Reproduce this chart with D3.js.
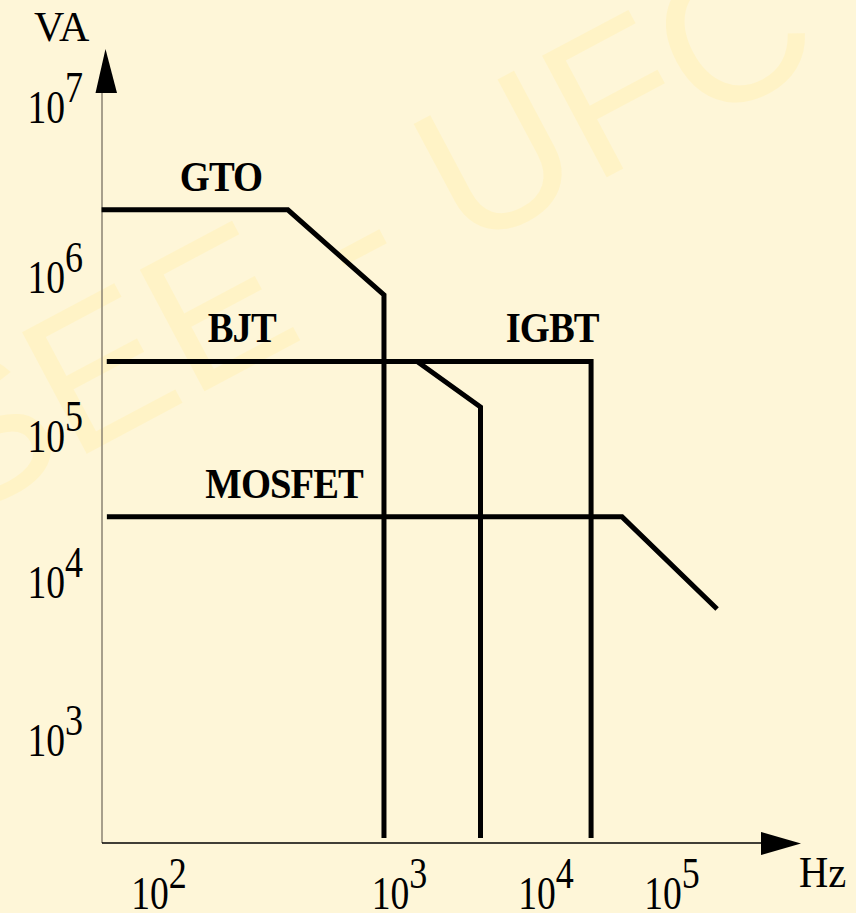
<!DOCTYPE html>
<html>
<head>
<meta charset="utf-8">
<script src="https://cdn.jsdelivr.net/npm/d3@7"></script>
<style>
  html, body { margin: 0; padding: 0; background: #fef6d8; }
  svg { display: block; }
</style>
</head>
<body>
<svg id="chart" width="856" height="913"></svg>
<script>
// Decade exponents labelled on each axis
const xExponents = [2, 3, 4, 5];
const yExponents = [3, 4, 5, 6, 7];

// Device names
const devices = ["GTO", "BJT", "IGBT", "MOSFET"];

// Operating-limit outlines: switching frequency (Hz) against power (VA)
const gtoHz    = [58, 345, 866, 866];
const gtoVA    = [2.45e6, 2.45e6, 7.6e5, 236];
const bjtHz    = [61, 1330, 3600, 3600];
const bjtVA    = [2.9e5, 2.9e5, 1.5e5, 236];
const igbtHz   = [61, 23000, 23000];
const igbtVA   = [2.9e5, 2.9e5, 236];
const mosfetHz = [61, 40500, 230000];
const mosfetVA = [2.75e4, 2.75e4, 6.65e3];

// Frequency at which each device name is centred
const labelHz = [182, 222, 11300, 333];

// Axis units
const xUnit = "Hz";
const yUnit = "VA";

const outlines = [
  d3.zip(gtoHz, gtoVA),
  d3.zip(bjtHz, bjtVA),
  d3.zip(igbtHz, igbtVA),
  d3.zip(mosfetHz, mosfetVA)
];

const svg = d3.select("#chart");
const W = 856, H = 913;
const originX = 102, originY = 843;
const serif = "'Liberation Serif', 'Times New Roman', Times, serif";

svg.append("rect").attr("width", W).attr("height", H).attr("fill", "#fef6d8");

// faint background stamp
svg.append("text")
  .attr("transform", "translate(-173,592) rotate(-28)")
  .attr("font-family", "'Liberation Sans', Arial, sans-serif")
  .attr("font-size", 200)
  .attr("fill", "#fff3c6")
  .text("CSEE - UFC");

// Log-decade scales (hand-spaced decades, linear within each decade)
const x = d3.scaleLinear().domain(xExponents).range([158.5, 399, 545.5, 671.5]);
const y = d3.scaleLinear().domain(yExponents).range([739, 581, 435, 276, 106]);
const xPos = v => x(Math.log10(v));
const yPos = v => y(Math.log10(v));

// Axis lines
svg.append("line")
  .attr("x1", originX).attr("x2", originX)
  .attr("y1", 92).attr("y2", originY)
  .attr("stroke", "#8a8272").attr("stroke-width", 1.5);
svg.append("path")
  .attr("d", "M105.5,49 L117,93 L95.5,93 Z")
  .attr("fill", "#000");
svg.append("line")
  .attr("x1", originX).attr("x2", 762)
  .attr("y1", originY).attr("y2", originY)
  .attr("stroke", "#000").attr("stroke-width", 1.5);
svg.append("path")
  .attr("d", "M801,843.5 L761,832 L761,855 Z")
  .attr("fill", "#000");

// Power-of-ten tick labels
function powerLabel(sel) {
  sel.each(function(d) {
    const t = d3.select(this);
    t.text(null);
    t.append("tspan").attr("font-size", 47).text("10");
    t.append("tspan").attr("font-size", 45).attr("dy", -21).text(d);
  });
}

const xAxis = svg.append("g")
  .attr("transform", `translate(0,${originY})`)
  .call(d3.axisBottom(x).tickValues(xExponents).tickSize(0).tickFormat(d => d));
xAxis.select(".domain").remove();
xAxis.selectAll(".tick text")
  .attr("y", 0).attr("dy", null)
  .attr("transform", "translate(0,66) scale(0.8,1)")
  .attr("text-anchor", "middle")
  .attr("font-family", serif)
  .attr("fill", "#000")
  .call(powerLabel);

const yAxis = svg.append("g")
  .attr("transform", `translate(${originX},0)`)
  .call(d3.axisLeft(y).tickValues(yExponents).tickSize(0).tickFormat(d => d));
yAxis.select(".domain").remove();
yAxis.selectAll(".tick text")
  .attr("x", 0).attr("dy", null)
  .attr("transform", "translate(-19,16) scale(0.8,1)")
  .attr("text-anchor", "end")
  .attr("font-family", serif)
  .attr("fill", "#000")
  .call(powerLabel);

// Axis unit labels
svg.append("text")
  .attr("x", 34).attr("y", 41)
  .attr("font-family", serif).attr("font-size", 42)
  .attr("fill", "#000")
  .text(yUnit);
svg.append("text")
  .attr("transform", "translate(799,887) scale(0.9,1)")
  .attr("font-family", serif).attr("font-size", 45)
  .attr("fill", "#000")
  .text(xUnit);

// Device outlines
const line = d3.line().x(d => xPos(d[0])).y(d => yPos(d[1]));
svg.append("g")
  .selectAll("path")
  .data(outlines)
  .join("path")
  .attr("d", line)
  .attr("fill", "none")
  .attr("stroke", "#000")
  .attr("stroke-width", 5)
  .attr("stroke-linejoin", "miter")
  .attr("stroke-linecap", "butt");

// Device names above their plateau
svg.append("g")
  .selectAll("text")
  .data(devices)
  .join("text")
  .attr("transform", (d, i) => `translate(${xPos(labelHz[i])},${yPos(outlines[i][0][1]) - 19}) scale(0.92,1)`)
  .attr("text-anchor", "middle")
  .attr("font-family", serif)
  .attr("font-weight", "bold")
  .attr("font-size", 42)
  .attr("letter-spacing", -1)
  .attr("fill", "#000")
  .text(d => d);
</script>
</body>
</html>
